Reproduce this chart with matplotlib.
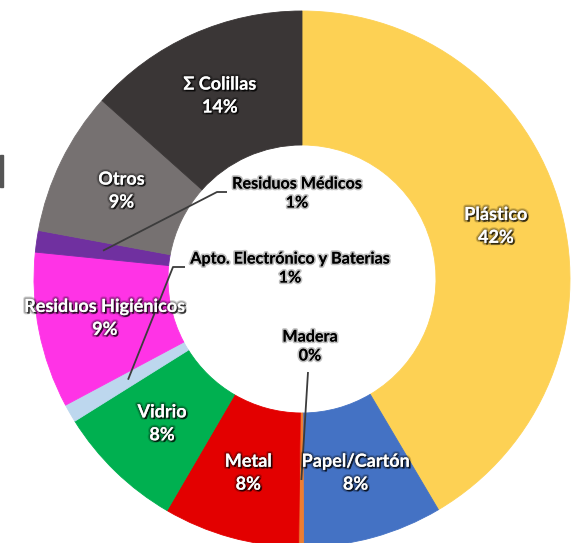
import matplotlib
matplotlib.use("Agg")
import matplotlib.pyplot as plt
import matplotlib.patheffects as pe
from matplotlib.patches import Rectangle
import numpy as np

# Datos del gráfico (porcentaje de cada tipo de residuo)
categories = ["Plástico", "Papel/Cartón", "Madera", "Metal", "Vidrio",
              "Apto. Electrónico y Baterias", "Residuos Higiénicos",
              "Residuos Médicos", "Otros", "Σ Colillas"]
values = [41.5, 8.4, 0.3, 8.2, 7.7, 1.1, 9.4, 1.3, 8.7, 13.4]
pct_labels = ["42%", "8%", "0%", "8%", "8%", "1%", "9%", "1%", "9%", "14%"]
colors = ["#FDD154", "#4472C4", "#ED7D31", "#E30000", "#00B050",
          "#BDD7EE", "#FF33E6", "#7030A0", "#767171", "#3A3636"]

# Etiquetas pequeñas que van dentro del hueco, con línea guía
# indice -> (posicion del texto, puntos de la línea guía desde el anillo)
callouts = {
    7: ((297, 194), [(217, 192), (227, 192)]),
    5: ((290, 269), [(173, 267), (185, 267)]),
    2: ((310, 347), [(308, 372)]),
}

W, H = 577, 543
plt.rcParams['font.family'] = ['Lato', 'DejaVu Sans']

fig = plt.figure(figsize=(W / 100, H / 100), dpi=100)
ax = fig.add_axes([0, 0, 1, 1])

cx, cy, R = 302, H - 279, 268  # centro y radio del anillo
wedges, _ = ax.pie(values, colors=colors, startangle=90, counterclock=False,
                   center=(cx, cy), radius=R,
                   wedgeprops=dict(width=R / 2, linewidth=0.6))
for w in wedges:
    w.set_edgecolor(w.get_facecolor())

ax.set_xlim(0, W)
ax.set_ylim(0, H)
ax.set_aspect('equal')
ax.axis('off')

white_fx = [pe.withStroke(linewidth=3.5, foreground=(0, 0, 0, 0.18)),
            pe.SimplePatchShadow(offset=(1.2, -1.2), shadow_rgbFace='black', alpha=0.7),
            pe.withStroke(linewidth=2.0, foreground=(0, 0, 0, 0.25))]
black_fx = [pe.withStroke(linewidth=2.5, foreground=(0.3, 0.3, 0.3, 0.35))]

for i, w in enumerate(wedges):
    mid = np.deg2rad((w.theta1 + w.theta2) / 2)
    mx = cx + 0.75 * R * np.cos(mid)  # punto medio del anillo
    my = cy + 0.75 * R * np.sin(mid)
    text = "%s\n%s" % (categories[i], pct_labels[i])
    if i in callouts:
        (tx, ty), knee = callouts[i]
        xs = [mx] + [k[0] for k in knee]
        ys = [my] + [H - k[1] for k in knee]
        ax.plot(xs, ys, color="#3C3C3C", lw=1.3, solid_capstyle='butt')
        ax.text(tx, H - ty, text, ha='center', va='center', fontsize=11.6,
                fontweight='bold', color='black', linespacing=1.45,
                path_effects=black_fx)
    else:
        ax.text(mx, my, text, ha='center', va='center', fontsize=13,
                fontweight='bold', color='white', linespacing=1.42,
                path_effects=white_fx)

# resto de otro elemento recortado en el borde izquierdo
fig.patches.append(Rectangle((0, 1 - 187 / H), 3 / W, 32 / H, transform=fig.transFigure,
                             color="#555555", zorder=5))

fig.savefig("out.png", dpi=100)
